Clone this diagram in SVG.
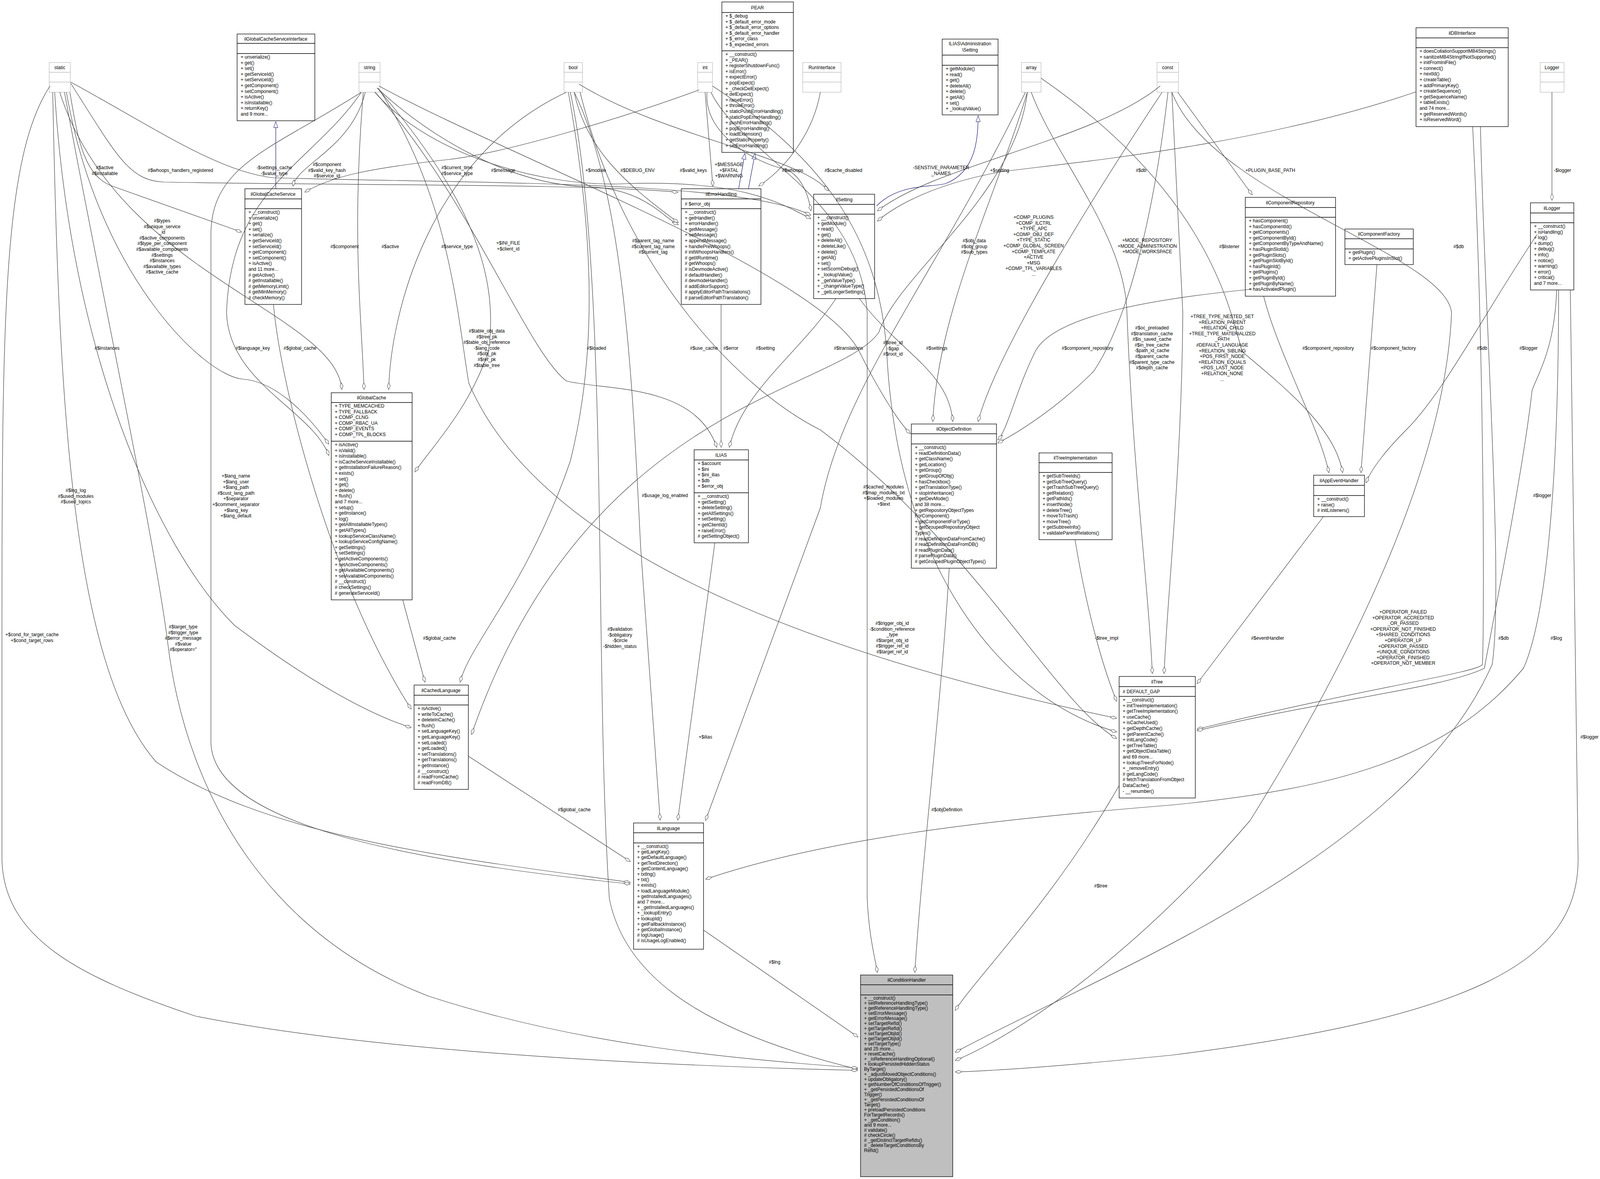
<svg xmlns="http://www.w3.org/2000/svg" width="4100" height="3017" viewBox="0 0 4100 3017">
<style>
text{font-family:"Liberation Sans",Arial,sans-serif;font-size:12px;fill:#000}
.t{text-anchor:middle}
.l{text-anchor:middle}
.b{fill:#fff;stroke:#000;stroke-width:1.3}
.gb{fill:#fff;stroke:#bfbfbf;stroke-width:1.3}
.s{stroke:#000;stroke-width:1.3}
.gs{stroke:#bfbfbf;stroke-width:1.3}
.e path{fill:none;stroke:#404040;stroke-width:1.2;marker-end:url(#d)}
.e path.i{stroke:#191970;marker-end:url(#t)}
</style>
<defs>
<marker id="d" viewBox="0 0 18 9" refX="18" refY="4.5" markerWidth="18" markerHeight="9" orient="auto" markerUnits="userSpaceOnUse"><path d="M0.5,4.5 L9,0.5 L17.5,4.5 L9,8.5 Z" fill="#fff" stroke="#404040"/></marker>
<marker id="t" viewBox="0 0 16 12" refX="16" refY="6" markerWidth="16" markerHeight="12" orient="auto" markerUnits="userSpaceOnUse"><path d="M0.5,0.5 L15.5,6 L0.5,11.5 Z" fill="#fff" stroke="#191970"/></marker>
</defs>
<rect width="4100" height="3017" fill="#fff"/>

<g id="static"><rect class="gb" x="126" y="160" width="54" height="76"/><line class="gs" x1="126" y1="185" x2="180" y2="185"/><line class="gs" x1="126" y1="210" x2="180" y2="210"/><text class="t" x="153" y="177">static</text></g>
<g id="string"><rect class="gb" x="919" y="160" width="54" height="76"/><line class="gs" x1="919" y1="185" x2="973" y2="185"/><line class="gs" x1="919" y1="210" x2="973" y2="210"/><text class="t" x="946" y="177">string</text></g>
<g id="bool"><rect class="gb" x="1444" y="160" width="47" height="76"/><line class="gs" x1="1444" y1="185" x2="1491" y2="185"/><line class="gs" x1="1444" y1="210" x2="1491" y2="210"/><text class="t" x="1467" y="177">bool</text></g>
<g id="int"><rect class="gb" x="1786" y="160" width="38" height="76"/><line class="gs" x1="1786" y1="185" x2="1824" y2="185"/><line class="gs" x1="1786" y1="210" x2="1824" y2="210"/><text class="t" x="1805" y="177">int</text></g>
<g id="RunInterface"><rect class="gb" x="2055" y="160" width="98" height="76"/><line class="gs" x1="2055" y1="185" x2="2153" y2="185"/><line class="gs" x1="2055" y1="210" x2="2153" y2="210"/><text class="t" x="2104" y="177">RunInterface</text></g>
<g id="array"><rect class="gb" x="2615" y="160" width="50" height="76"/><line class="gs" x1="2615" y1="185" x2="2665" y2="185"/><line class="gs" x1="2615" y1="210" x2="2665" y2="210"/><text class="t" x="2640" y="177">array</text></g>
<g id="const"><rect class="gb" x="2962" y="160" width="55" height="76"/><line class="gs" x1="2962" y1="185" x2="3017" y2="185"/><line class="gs" x1="2962" y1="210" x2="3017" y2="210"/><text class="t" x="2989" y="177">const</text></g>
<g id="Logger"><rect class="gb" x="3943" y="160" width="61" height="76"/><line class="gs" x1="3943" y1="185" x2="4004" y2="185"/><line class="gs" x1="3943" y1="210" x2="4004" y2="210"/><text class="t" x="3973" y="177">Logger</text></g>

<g id="ilGlobalCacheServiceInterface"><rect class="b" x="607" y="87" width="199" height="222"/><line class="s" x1="607" y1="111" x2="806" y2="111"/><line class="s" x1="607" y1="137" x2="806" y2="137"/><text class="t" x="706" y="104">ilGlobalCacheServiceInterface</text>
<text x="616" y="150"><tspan x="616">+ unserialize()</tspan><tspan x="616" dy="14.6">+ get()</tspan><tspan x="616" dy="14.6">+ set()</tspan><tspan x="616" dy="14.6">+ getServiceId()</tspan><tspan x="616" dy="14.6">+ setServiceId()</tspan><tspan x="616" dy="14.6">+ getComponent()</tspan><tspan x="616" dy="14.6">+ setComponent()</tspan><tspan x="616" dy="14.6">+ isActive()</tspan><tspan x="616" dy="14.6">+ isInstallable()</tspan><tspan x="616" dy="14.6">+ returnKey()</tspan><tspan x="616" dy="14.6">and 9 more...</tspan></text></g>

<g id="PEAR"><rect class="b" x="1848" y="5" width="183" height="385"/><line class="s" x1="1848" y1="32" x2="2031" y2="32"/><line class="s" x1="1848" y1="130" x2="2031" y2="130"/><text class="t" x="1939" y="24">PEAR</text>
<text x="1857" y="45"><tspan x="1857">+ $_debug</tspan><tspan x="1857" dy="14.6">+ $_default_error_mode</tspan><tspan x="1857" dy="14.6">+ $_default_error_options</tspan><tspan x="1857" dy="14.6">+ $_default_error_handler</tspan><tspan x="1857" dy="14.6">+ $_error_class</tspan><tspan x="1857" dy="14.6">+ $_expected_errors</tspan></text>
<text x="1857" y="143"><tspan x="1857">+ __construct()</tspan><tspan x="1857" dy="14.6">+ _PEAR()</tspan><tspan x="1857" dy="14.6">+ registerShutdownFunc()</tspan><tspan x="1857" dy="14.6">+ isError()</tspan><tspan x="1857" dy="14.6">+ expectError()</tspan><tspan x="1857" dy="14.6">+ popExpect()</tspan><tspan x="1857" dy="14.6">+ _checkDelExpect()</tspan><tspan x="1857" dy="14.6">+ delExpect()</tspan><tspan x="1857" dy="14.6">+ raiseError()</tspan><tspan x="1857" dy="14.6">+ throwError()</tspan><tspan x="1857" dy="14.6">+ staticPushErrorHandling()</tspan><tspan x="1857" dy="14.6">+ staticPopErrorHandling()</tspan><tspan x="1857" dy="14.6">+ pushErrorHandling()</tspan><tspan x="1857" dy="14.6">+ popErrorHandling()</tspan><tspan x="1857" dy="14.6">+ loadExtension()</tspan><tspan x="1857" dy="14.6">+ getStaticProperty()</tspan><tspan x="1857" dy="14.6">+ setErrorHandling()</tspan></text></g>

<g id="ILIAS_Administration_Setting"><rect class="b" x="2412" y="100" width="143" height="194"/><line class="s" x1="2412" y1="141" x2="2555" y2="141"/><line class="s" x1="2412" y1="167" x2="2555" y2="167"/><text class="t" x="2483" y="116">ILIAS\Administration</text><text class="t" x="2483" y="132">\Setting</text>
<text x="2421" y="180"><tspan x="2421">+ getModule()</tspan><tspan x="2421" dy="14.6">+ read()</tspan><tspan x="2421" dy="14.6">+ get()</tspan><tspan x="2421" dy="14.6">+ deleteAll()</tspan><tspan x="2421" dy="14.6">+ delete()</tspan><tspan x="2421" dy="14.6">+ getAll()</tspan><tspan x="2421" dy="14.6">+ set()</tspan><tspan x="2421" dy="14.6">+ _lookupValue()</tspan></text></g>

<g id="ilDBInterface"><rect class="b" x="3625" y="71" width="236" height="253"/><line class="s" x1="3625" y1="97" x2="3861" y2="97"/><line class="s" x1="3625" y1="122" x2="3861" y2="122"/><text class="t" x="3743" y="89">ilDBInterface</text>
<text x="3634" y="135"><tspan x="3634">+ doesCollationSupportMB4Strings()</tspan><tspan x="3634" dy="14.6">+ sanitizeMB4StringIfNotSupported()</tspan><tspan x="3634" dy="14.6">+ initFromIniFile()</tspan><tspan x="3634" dy="14.6">+ connect()</tspan><tspan x="3634" dy="14.6">+ nextId()</tspan><tspan x="3634" dy="14.6">+ createTable()</tspan><tspan x="3634" dy="14.6">+ addPrimaryKey()</tspan><tspan x="3634" dy="14.6">+ createSequence()</tspan><tspan x="3634" dy="14.6">+ getSequenceName()</tspan><tspan x="3634" dy="14.6">+ tableExists()</tspan><tspan x="3634" dy="14.6">and 74 more...</tspan><tspan x="3634" dy="14.6">+ getReservedWords()</tspan><tspan x="3634" dy="14.6">+ isReservedWord()</tspan></text></g>

<g id="ilGlobalCacheService"><rect class="b" x="627" y="483" width="145" height="296"/><line class="s" x1="627" y1="509" x2="772" y2="509"/><line class="s" x1="627" y1="534" x2="772" y2="534"/><text class="t" x="699" y="501">ilGlobalCacheService</text>
<text x="636" y="547"><tspan x="636">+ __construct()</tspan><tspan x="636" dy="14.6">+ unserialize()</tspan><tspan x="636" dy="14.6">+ get()</tspan><tspan x="636" dy="14.6">+ set()</tspan><tspan x="636" dy="14.6">+ serialize()</tspan><tspan x="636" dy="14.6">+ getServiceId()</tspan><tspan x="636" dy="14.6">+ setServiceId()</tspan><tspan x="636" dy="14.6">+ getComponent()</tspan><tspan x="636" dy="14.6">+ setComponent()</tspan><tspan x="636" dy="14.6">+ isActive()</tspan><tspan x="636" dy="14.6">and 11 more...</tspan><tspan x="636" dy="14.6"># getActive()</tspan><tspan x="636" dy="14.6"># getInstallable()</tspan><tspan x="636" dy="14.6"># getMemoryLimit()</tspan><tspan x="636" dy="14.6"># getMinMemory()</tspan><tspan x="636" dy="14.6"># checkMemory()</tspan></text></g>

<g id="ilErrorHandling"><rect class="b" x="1744" y="483" width="204" height="296"/><line class="s" x1="1744" y1="509" x2="1948" y2="509"/><line class="s" x1="1744" y1="534" x2="1948" y2="534"/><text class="t" x="1846" y="501">ilErrorHandling</text><text x="1753" y="526"># $error_obj</text>
<text x="1753" y="547"><tspan x="1753">+ __construct()</tspan><tspan x="1753" dy="14.6">+ getHandler()</tspan><tspan x="1753" dy="14.6">+ errorHandler()</tspan><tspan x="1753" dy="14.6">+ getMessage()</tspan><tspan x="1753" dy="14.6">+ setMessage()</tspan><tspan x="1753" dy="14.6">+ appendMessage()</tspan><tspan x="1753" dy="14.6">+ handlePreWhoops()</tspan><tspan x="1753" dy="14.6"># initWhoopsHandlers()</tspan><tspan x="1753" dy="14.6"># getIlRuntime()</tspan><tspan x="1753" dy="14.6"># getWhoops()</tspan><tspan x="1753" dy="14.6"># isDevmodeActive()</tspan><tspan x="1753" dy="14.6"># defaultHandler()</tspan><tspan x="1753" dy="14.6"># devmodeHandler()</tspan><tspan x="1753" dy="14.6"># addEditorSupport()</tspan><tspan x="1753" dy="14.6"># applyEditorPathTranslations()</tspan><tspan x="1753" dy="14.6"># parseEditorPathTranslation()</tspan></text></g>

<g id="ilSetting"><rect class="b" x="2083" y="497" width="156" height="267"/><line class="s" x1="2083" y1="523" x2="2239" y2="523"/><line class="s" x1="2083" y1="548" x2="2239" y2="548"/><text class="t" x="2161" y="515">ilSetting</text>
<text x="2092" y="561"><tspan x="2092">+ __construct()</tspan><tspan x="2092" dy="14.6">+ getModule()</tspan><tspan x="2092" dy="14.6">+ read()</tspan><tspan x="2092" dy="14.6">+ get()</tspan><tspan x="2092" dy="14.6">+ deleteAll()</tspan><tspan x="2092" dy="14.6">+ deleteLike()</tspan><tspan x="2092" dy="14.6">+ delete()</tspan><tspan x="2092" dy="14.6">+ getAll()</tspan><tspan x="2092" dy="14.6">+ set()</tspan><tspan x="2092" dy="14.6">+ setScormDebug()</tspan><tspan x="2092" dy="14.6">+ _lookupValue()</tspan><tspan x="2092" dy="14.6">+ _getValueType()</tspan><tspan x="2092" dy="14.6">+ _changeValueType()</tspan><tspan x="2092" dy="14.6">+ _getLongerSettings()</tspan></text></g>

<g id="ilComponentRepository"><rect class="b" x="3188" y="505" width="231" height="253"/><line class="s" x1="3188" y1="531" x2="3419" y2="531"/><line class="s" x1="3188" y1="556" x2="3419" y2="556"/><text class="t" x="3303" y="523">ilComponentRepository</text>
<text x="3197" y="569"><tspan x="3197">+ hasComponent()</tspan><tspan x="3197" dy="14.6">+ hasComponentId()</tspan><tspan x="3197" dy="14.6">+ getComponents()</tspan><tspan x="3197" dy="14.6">+ getComponentById()</tspan><tspan x="3197" dy="14.6">+ getComponentByTypeAndName()</tspan><tspan x="3197" dy="14.6">+ hasPluginSlotId()</tspan><tspan x="3197" dy="14.6">+ getPluginSlots()</tspan><tspan x="3197" dy="14.6">+ getPluginSlotById()</tspan><tspan x="3197" dy="14.6">+ hasPluginId()</tspan><tspan x="3197" dy="14.6">+ getPlugins()</tspan><tspan x="3197" dy="14.6">+ getPluginById()</tspan><tspan x="3197" dy="14.6">+ getPluginByName()</tspan><tspan x="3197" dy="14.6">+ hasActivatedPlugin()</tspan></text></g>

<g id="ilComponentFactory"><rect class="b" x="3443" y="586" width="175" height="91"/><line class="s" x1="3443" y1="611" x2="3618" y2="611"/><line class="s" x1="3443" y1="637" x2="3618" y2="637"/><text class="t" x="3530" y="603">ilComponentFactory</text>
<text x="3452" y="650"><tspan x="3452">+ getPlugin()</tspan><tspan x="3452" dy="14.6">+ getActivePluginsInSlot()</tspan></text></g>

<g id="ilLogger"><rect class="b" x="3918" y="519" width="111" height="223"/><line class="s" x1="3918" y1="545" x2="4029" y2="545"/><line class="s" x1="3918" y1="570" x2="4029" y2="570"/><text class="t" x="3973" y="537">ilLogger</text>
<text x="3927" y="583"><tspan x="3927">+ __construct()</tspan><tspan x="3927" dy="14.6">+ isHandling()</tspan><tspan x="3927" dy="14.6">+ log()</tspan><tspan x="3927" dy="14.6">+ dump()</tspan><tspan x="3927" dy="14.6">+ debug()</tspan><tspan x="3927" dy="14.6">+ info()</tspan><tspan x="3927" dy="14.6">+ notice()</tspan><tspan x="3927" dy="14.6">+ warning()</tspan><tspan x="3927" dy="14.6">+ error()</tspan><tspan x="3927" dy="14.6">+ critical()</tspan><tspan x="3927" dy="14.6">and 7 more...</tspan></text></g>

<g id="ilGlobalCache"><rect class="b" x="848" y="1005" width="207" height="530"/><line class="s" x1="848" y1="1030" x2="1055" y2="1030"/><line class="s" x1="848" y1="1129" x2="1055" y2="1129"/><text class="t" x="951" y="1022">ilGlobalCache</text>
<text x="857" y="1043"><tspan x="857">+ TYPE_MEMCACHED</tspan><tspan x="857" dy="14.6">+ TYPE_FALLBACK</tspan><tspan x="857" dy="14.6">+ COMP_CLNG</tspan><tspan x="857" dy="14.6">+ COMP_RBAC_UA</tspan><tspan x="857" dy="14.6">+ COMP_EVENTS</tspan><tspan x="857" dy="14.6">+ COMP_TPL_BLOCKS</tspan></text>
<text x="857" y="1142"><tspan x="857">+ isActive()</tspan><tspan x="857" dy="14.6">+ isValid()</tspan><tspan x="857" dy="14.6">+ isInstallable()</tspan><tspan x="857" dy="14.6">+ isCacheServiceInstallable()</tspan><tspan x="857" dy="14.6">+ getInstallationFailureReason()</tspan><tspan x="857" dy="14.6">+ exists()</tspan><tspan x="857" dy="14.6">+ set()</tspan><tspan x="857" dy="14.6">+ get()</tspan><tspan x="857" dy="14.6">+ delete()</tspan><tspan x="857" dy="14.6">+ flush()</tspan><tspan x="857" dy="14.6">and 7 more...</tspan><tspan x="857" dy="14.6">+ setup()</tspan><tspan x="857" dy="14.6">+ getInstance()</tspan><tspan x="857" dy="14.6">+ log()</tspan><tspan x="857" dy="14.6">+ getAllInstallableTypes()</tspan><tspan x="857" dy="14.6">+ getAllTypes()</tspan><tspan x="857" dy="14.6">+ lookupServiceClassName()</tspan><tspan x="857" dy="14.6">+ lookupServiceConfigName()</tspan><tspan x="857" dy="14.6">+ getSettings()</tspan><tspan x="857" dy="14.6">+ setSettings()</tspan><tspan x="857" dy="14.6">+ getActiveComponents()</tspan><tspan x="857" dy="14.6">+ setActiveComponents()</tspan><tspan x="857" dy="14.6">+ getAvailableComponents()</tspan><tspan x="857" dy="14.6">+ setAvailableComponents()</tspan><tspan x="857" dy="14.6"># __construct()</tspan><tspan x="857" dy="14.6"># checkSettings()</tspan><tspan x="857" dy="14.6"># generateServiceId()</tspan></text></g>

<g id="ILIAS"><rect class="b" x="1777" y="1151" width="139" height="238"/><line class="s" x1="1777" y1="1177" x2="1916" y2="1177"/><line class="s" x1="1777" y1="1261" x2="1916" y2="1261"/><text class="t" x="1846" y="1169">ILIAS</text>
<text x="1786" y="1190"><tspan x="1786">+ $account</tspan><tspan x="1786" dy="14.6">+ $ini</tspan><tspan x="1786" dy="14.6">+ $ini_ilias</tspan><tspan x="1786" dy="14.6">+ $db</tspan><tspan x="1786" dy="14.6">+ $error_obj</tspan></text>
<text x="1786" y="1274"><tspan x="1786">+ __construct()</tspan><tspan x="1786" dy="14.6">+ getSetting()</tspan><tspan x="1786" dy="14.6">+ deleteSetting()</tspan><tspan x="1786" dy="14.6">+ getAllSettings()</tspan><tspan x="1786" dy="14.6">+ setSetting()</tspan><tspan x="1786" dy="14.6">+ getClientId()</tspan><tspan x="1786" dy="14.6">+ raiseError()</tspan><tspan x="1786" dy="14.6"># getSettingObject()</tspan></text></g>

<g id="ilObjectDefinition"><rect class="b" x="2333" y="1085" width="218" height="369"/><line class="s" x1="2333" y1="1110" x2="2551" y2="1110"/><line class="s" x1="2333" y1="1136" x2="2551" y2="1136"/><text class="t" x="2442" y="1102">ilObjectDefinition</text>
<text x="2342" y="1149"><tspan x="2342">+ __construct()</tspan><tspan x="2342" dy="14.6">+ readDefinitionData()</tspan><tspan x="2342" dy="14.6">+ getClassName()</tspan><tspan x="2342" dy="14.6">+ getLocation()</tspan><tspan x="2342" dy="14.6">+ getGroup()</tspan><tspan x="2342" dy="14.6">+ getGroupOfObj()</tspan><tspan x="2342" dy="14.6">+ hasCheckbox()</tspan><tspan x="2342" dy="14.6">+ getTranslationType()</tspan><tspan x="2342" dy="14.6">+ stopInheritance()</tspan><tspan x="2342" dy="14.6">+ getDevMode()</tspan><tspan x="2342" dy="14.6">and 38 more...</tspan><tspan x="2342" dy="14.6">+ getRepositoryObjectTypes</tspan><tspan x="2342" dy="14.6">ForComponent()</tspan><tspan x="2342" dy="14.6">+ getComponentForType()</tspan><tspan x="2342" dy="14.6">+ getGroupedRepositoryObject</tspan><tspan x="2342" dy="14.6">Types()</tspan><tspan x="2342" dy="14.6"># readDefinitionDataFromCache()</tspan><tspan x="2342" dy="14.6"># readDefinitionDataFromDB()</tspan><tspan x="2342" dy="14.6"># readPluginData()</tspan><tspan x="2342" dy="14.6"># parsePluginData()</tspan><tspan x="2342" dy="14.6"># getGroupedPluginObjectTypes()</tspan></text></g>

<g id="ilTreeImplementation"><rect class="b" x="2660" y="1159" width="187" height="222"/><line class="s" x1="2660" y1="1184" x2="2847" y2="1184"/><line class="s" x1="2660" y1="1209" x2="2847" y2="1209"/><text class="t" x="2753" y="1176">ilTreeImplementation</text>
<text x="2669" y="1222"><tspan x="2669">+ getSubTreeIds()</tspan><tspan x="2669" dy="14.6">+ getSubTreeQuery()</tspan><tspan x="2669" dy="14.6">+ getTrashSubTreeQuery()</tspan><tspan x="2669" dy="14.6">+ getRelation()</tspan><tspan x="2669" dy="14.6">+ getPathIds()</tspan><tspan x="2669" dy="14.6">+ insertNode()</tspan><tspan x="2669" dy="14.6">+ deleteTree()</tspan><tspan x="2669" dy="14.6">+ moveToTrash()</tspan><tspan x="2669" dy="14.6">+ moveTree()</tspan><tspan x="2669" dy="14.6">+ getSubtreeInfo()</tspan><tspan x="2669" dy="14.6">+ validateParentRelations()</tspan></text></g>

<g id="ilAppEventHandler"><rect class="b" x="3363" y="1216" width="130" height="106"/><line class="s" x1="3363" y1="1242" x2="3493" y2="1242"/><line class="s" x1="3363" y1="1268" x2="3493" y2="1268"/><text class="t" x="3428" y="1234">ilAppEventHandler</text>
<text x="3372" y="1281"><tspan x="3372">+ __construct()</tspan><tspan x="3372" dy="14.6">+ raise()</tspan><tspan x="3372" dy="14.6"># initListeners()</tspan></text></g>

<g id="ilCachedLanguage"><rect class="b" x="1060" y="1753" width="139" height="267"/><line class="s" x1="1060" y1="1779" x2="1199" y2="1779"/><line class="s" x1="1060" y1="1804" x2="1199" y2="1804"/><text class="t" x="1129" y="1771">ilCachedLanguage</text>
<text x="1069" y="1817"><tspan x="1069">+ isActive()</tspan><tspan x="1069" dy="14.6">+ writeToCache()</tspan><tspan x="1069" dy="14.6">+ deleteInCache()</tspan><tspan x="1069" dy="14.6">+ flush()</tspan><tspan x="1069" dy="14.6">+ setLanguageKey()</tspan><tspan x="1069" dy="14.6">+ getLanguageKey()</tspan><tspan x="1069" dy="14.6">+ setLoaded()</tspan><tspan x="1069" dy="14.6">+ getLoaded()</tspan><tspan x="1069" dy="14.6">+ setTranslations()</tspan><tspan x="1069" dy="14.6">+ getTranslations()</tspan><tspan x="1069" dy="14.6">+ getInstance()</tspan><tspan x="1069" dy="14.6"># __construct()</tspan><tspan x="1069" dy="14.6"># readFromCache()</tspan><tspan x="1069" dy="14.6"># readFromDB()</tspan></text></g>

<g id="ilTree"><rect class="b" x="2865" y="1731" width="195" height="311"/><line class="s" x1="2865" y1="1757" x2="3060" y2="1757"/><line class="s" x1="2865" y1="1782" x2="3060" y2="1782"/><text class="t" x="2962" y="1749">ilTree</text><text x="2874" y="1774"># DEFAULT_GAP</text>
<text x="2874" y="1795"><tspan x="2874">+ __construct()</tspan><tspan x="2874" dy="14.6">+ initTreeImplementation()</tspan><tspan x="2874" dy="14.6">+ getTreeImplementation()</tspan><tspan x="2874" dy="14.6">+ useCache()</tspan><tspan x="2874" dy="14.6">+ isCacheUsed()</tspan><tspan x="2874" dy="14.6">+ getDepthCache()</tspan><tspan x="2874" dy="14.6">+ getParentCache()</tspan><tspan x="2874" dy="14.6">+ initLangCode()</tspan><tspan x="2874" dy="14.6">+ getTreeTable()</tspan><tspan x="2874" dy="14.6">+ getObjectDataTable()</tspan><tspan x="2874" dy="14.6">and 69 more...</tspan><tspan x="2874" dy="14.6">+ lookupTreesForNode()</tspan><tspan x="2874" dy="14.6">+ _removeEntry()</tspan><tspan x="2874" dy="14.6"># getLangCode()</tspan><tspan x="2874" dy="14.6"># fetchTranslationFromObject</tspan><tspan x="2874" dy="14.6">DataCache()</tspan><tspan x="2874" dy="14.6">- __renumber()</tspan></text></g>

<g id="ilLanguage"><rect class="b" x="1622" y="2106" width="179" height="323"/><line class="s" x1="1622" y1="2131" x2="1801" y2="2131"/><line class="s" x1="1622" y1="2157" x2="1801" y2="2157"/><text class="t" x="1711" y="2124">ilLanguage</text>
<text x="1631" y="2170"><tspan x="1631">+ __construct()</tspan><tspan x="1631" dy="14.2">+ getLangKey()</tspan><tspan x="1631" dy="14.2">+ getDefaultLanguage()</tspan><tspan x="1631" dy="14.2">+ getTextDirection()</tspan><tspan x="1631" dy="14.2">+ getContentLanguage()</tspan><tspan x="1631" dy="14.2">+ txtlng()</tspan><tspan x="1631" dy="14.2">+ txt()</tspan><tspan x="1631" dy="14.2">+ exists()</tspan><tspan x="1631" dy="14.2">+ loadLanguageModule()</tspan><tspan x="1631" dy="14.2">+ getInstalledLanguages()</tspan><tspan x="1631" dy="14.2">and 7 more...</tspan><tspan x="1631" dy="14.2">+ _getInstalledLanguages()</tspan><tspan x="1631" dy="14.2">+ _lookupEntry()</tspan><tspan x="1631" dy="14.2">+ lookupId()</tspan><tspan x="1631" dy="14.2">+ getFallbackInstance()</tspan><tspan x="1631" dy="14.2">+ getGlobalInstance()</tspan><tspan x="1631" dy="14.2"># logUsage()</tspan><tspan x="1631" dy="14.2"># isUsageLogEnabled()</tspan></text></g>

<g id="ilConditionHandler"><rect x="2203" y="2495" width="236" height="516" fill="#bfbfbf" stroke="#000" stroke-width="1.3"/><line class="s" x1="2203" y1="2520" x2="2439" y2="2520"/><line class="s" x1="2203" y1="2546" x2="2439" y2="2546"/><text class="t" x="2321" y="2512">ilConditionHandler</text>
<text x="2212" y="2558"><tspan x="2212">+ __construct()</tspan><tspan x="2212" dy="13">+ setReferenceHandlingType()</tspan><tspan x="2212" dy="13">+ getReferenceHandlingType()</tspan><tspan x="2212" dy="13">+ setErrorMessage()</tspan><tspan x="2212" dy="13">+ getErrorMessage()</tspan><tspan x="2212" dy="13">+ setTargetRefId()</tspan><tspan x="2212" dy="13">+ getTargetRefId()</tspan><tspan x="2212" dy="13">+ setTargetObjId()</tspan><tspan x="2212" dy="13">+ getTargetObjId()</tspan><tspan x="2212" dy="13">+ setTargetType()</tspan><tspan x="2212" dy="13">and 25 more...</tspan><tspan x="2212" dy="13">+ resetCache()</tspan><tspan x="2212" dy="13">+ _isReferenceHandlingOptional()</tspan><tspan x="2212" dy="13">+ lookupPersistedHiddenStatus</tspan><tspan x="2212" dy="13">ByTarget()</tspan><tspan x="2212" dy="13">+ _adjustMovedObjectConditions()</tspan><tspan x="2212" dy="13">+ updateObligatory()</tspan><tspan x="2212" dy="13">+ getNumberOfConditionsOfTrigger()</tspan><tspan x="2212" dy="13">+ _getPersistedConditionsOf</tspan><tspan x="2212" dy="13">Trigger()</tspan><tspan x="2212" dy="13">+ _getPersistedConditionsOf</tspan><tspan x="2212" dy="13">Target()</tspan><tspan x="2212" dy="13">+ preloadPersistedConditions</tspan><tspan x="2212" dy="13">ForTargetRecords()</tspan><tspan x="2212" dy="13">+ _getCondition()</tspan><tspan x="2212" dy="13">and 9 more...</tspan><tspan x="2212" dy="13"># validate()</tspan><tspan x="2212" dy="13"># checkCircle()</tspan><tspan x="2212" dy="13"># _getDistinctTargetRefIds()</tspan><tspan x="2212" dy="13"># _deleteTargetConditionsBy</tspan><tspan x="2212" dy="13">RefId()</tspan></text></g>

<g id="edges" class="e">
<path class="i" d="M706,483 L706,311"/>
<path class="i" d="M1891,483 L1907,392"/>
<path class="i" d="M1916,483 L1933,392"/>
<path class="i" d="M2244,527 C2300,470 2380,480 2420,470 C2500,440 2504,350 2504,296"/>
<path d="M179,237 C200,360 215,455 295,479 L619,594"/>
<path d="M181,213 C300,400 330,462 420,466 C900,475 1500,470 1736,492"/>
<path d="M181,210 C400,330 560,440 700,455 C1200,470 1900,460 2076,551"/>
<path d="M935,236 C900,380 760,420 750,477"/>
<path d="M1790,230 C1600,300 1300,390 1150,408 C950,430 850,450 780,492"/>
<path d="M965,225 C1100,350 1300,470 1500,478 C1650,480 1700,560 1737,575"/>
<path d="M1470,236 C1500,380 1600,470 1737,570"/>
<path d="M1805,236 L1825,477"/>
<path d="M2100,236 C2080,350 2000,440 1942,476"/>
<path d="M1482,215 C1700,350 2050,400 2121,489"/>
<path d="M960,236 C1100,400 1400,480 1600,470 C1900,460 2000,520 2076,560"/>
<path d="M1810,236 C1800,350 1950,420 2000,430 C2050,440 2070,500 2076,540"/>
<path d="M2970,220 C2800,360 2400,420 2246,540"/>
<path d="M3625,235 C3200,380 2700,420 2560,440 C2400,470 2300,520 2246,566"/>
<path d="M3015,236 L3206,499"/>
<path d="M3973,236 L3973,513"/>
<path d="M153,236 C300,700 860,800 875,997"/>
<path d="M930,236 C900,600 925,800 932,997"/>
<path d="M1450,236 C1100,400 1000,800 995,997"/>
<path d="M170,236 C250,700 520,960 620,970 C700,975 780,1050 842,1137"/>
<path d="M925,236 C800,420 590,480 580,800 C585,980 800,1050 842,1166"/>
<path d="M700,779 C720,1000 850,1500 1053,1815"/>
<path d="M140,236 C180,900 400,1400 600,1600 C800,1750 950,1830 1053,1862"/>
<path d="M970,230 C1200,500 1280,700 1250,900 C1200,1050 1100,1150 1062,1208"/>
<path d="M1031,1535 L1088,1746"/>
<path d="M1455,236 C1520,600 1530,900 1460,1180 C1350,1500 1200,1650 1178,1746"/>
<path d="M2630,236 C2600,500 2300,700 2250,850 C2150,1000 1500,1030 1207,1880"/>
<path d="M960,236 C1200,500 1350,900 1450,975 C1550,1000 1780,980 1835,1145"/>
<path d="M1846,779 L1846,1145"/>
<path d="M2140,764 C2050,900 1900,1000 1867,1145"/>
<path d="M1830,1389 L1735,2099"/>
<path d="M1470,236 C1600,500 1620,1000 1640,1400 L1690,2099"/>
<path d="M2625,236 C2400,700 2150,1000 2100,1300 L1806,2100"/>
<path d="M1199,1935 L1614,2205"/>
<path d="M135,236 C150,1000 180,1700 400,1950 C700,2150 1200,2200 1614,2258"/>
<path d="M925,236 C700,380 540,420 540,600 L540,1900 C545,2100 1000,2200 1614,2262"/>
<path d="M1460,236 C1560,700 1520,1700 1560,2300 C1600,2500 1800,2640 2196,2736"/>
<path d="M128,220 C10,400 5,800 5,1600 L5,2200 C10,2400 200,2500 500,2600 C1000,2700 1800,2730 2196,2739"/>
<path d="M165,236 C250,700 400,1400 430,1650 C480,2050 700,2400 1100,2550 C1500,2680 1900,2710 2196,2733"/>
<path d="M1801,2380 L2197,2654"/>
<path d="M2430,1454 C2410,1800 2360,2200 2342,2489"/>
<path d="M1820,236 C1900,400 2200,500 2220,800 L2220,2300 C2225,2400 2240,2450 2246,2489"/>
<path d="M2865,2010 C2700,2300 2500,2500 2445,2586"/>
<path d="M3790,324 C3800,800 3850,1500 3820,1700 C3600,2200 2800,2500 2445,2693"/>
<path d="M3000,236 C3100,500 3700,650 3716,800 C3700,1200 3450,1700 3200,2100 C2900,2450 2600,2650 2445,2714"/>
<path d="M4020,742 L4040,2200 C4040,2450 3800,2600 3000,2700 C2700,2730 2550,2740 2445,2743"/>
<path d="M3990,742 C3990,1300 3950,1600 3900,1710 C3700,1950 3400,2020 3000,2060 C2500,2100 2100,2150 1806,2250"/>
<path d="M3935,600 C3800,800 3700,1000 3600,1100 C3550,1150 3510,1200 3497,1236"/>
<path d="M3770,324 C3800,900 3800,1600 3795,1700 C3790,1720 3500,1760 3064,1866"/>
<path d="M3985,742 C3980,900 3930,970 3922,1000 C3900,1200 3820,1600 3800,1710 C3700,1760 3400,1790 3064,1870"/>
<path d="M3388,1322 L3064,1750"/>
<path d="M2752,1381 C2780,1550 2820,1700 2859,1795"/>
<path d="M2640,236 C2700,400 2880,600 2885,800 C2900,1200 2940,1500 2950,1724"/>
<path d="M3000,236 L3028,800 C3025,1200 2990,1500 2980,1724"/>
<path d="M968,225 C1150,500 1170,800 1200,980 C1400,1450 2200,1700 2859,1838"/>
<path d="M1824,220 C2100,400 2250,600 2270,900 C2300,1500 2600,1800 2859,1873"/>
<path d="M1485,236 C1600,700 1900,1000 2100,1100 C2500,1400 2700,1800 2859,1890"/>
<path d="M3235,758 C3270,900 3380,1100 3402,1210"/>
<path d="M2665,200 C3100,500 3150,800 3180,900 C3300,1000 3420,1100 3437,1210"/>
<path d="M3525,677 L3484,1210"/>
<path d="M3205,740 C3000,760 2700,800 2650,900 C2600,1000 2580,1100 2554,1126"/>
<path d="M2990,236 C2960,500 2900,800 2800,950 C2700,1050 2600,1110 2554,1134"/>
<path d="M2200,764 C2300,900 2430,950 2439,1079"/>
<path d="M2630,236 C2550,500 2400,800 2388,1079"/>
<path d="M2975,236 C2800,500 2550,900 2504,1079"/>
<path d="M970,220 C1300,400 2100,700 2200,900 C2250,1000 2300,1080 2331,1110"/>
</g>

<g id="labels">
<text class="l" x="268" y="433"><tspan x="268">#$active</tspan><tspan x="268" dy="14.6">#$installable</tspan></text>
<text class="l" x="462" y="440">#$whoops_handlers_registered</text>
<text class="l" x="702" y="433"><tspan x="702">-$settings_cache</tspan><tspan x="702" dy="14.6">-$value_type</tspan></text>
<text class="l" x="837" y="425"><tspan x="837">#$component</tspan><tspan x="837" dy="14.6">#$valid_key_hash</tspan><tspan x="837" dy="14.6">#$service_id</tspan></text>
<text class="l" x="1170" y="433"><tspan x="1170">#$current_time</tspan><tspan x="1170" dy="14.6">#$service_type</tspan></text>
<text class="l" x="1288" y="440">#$message</text>
<text class="l" x="1525" y="440">+$module</text>
<text class="l" x="1632" y="440">#$DEBUG_ENV</text>
<text class="l" x="1775" y="440">#$valid_keys</text>
<text class="l" x="1866" y="425"><tspan x="1866">+$MESSAGE</tspan><tspan x="1866" dy="14.6">+$FATAL</tspan><tspan x="1866" dy="14.6">+$WARNING</tspan></text>
<text class="l" x="2029" y="440">#$whoops</text>
<text class="l" x="2159" y="440">#$cache_disabled</text>
<text class="l" x="2409" y="433"><tspan x="2409">-SENSTIVE_PARAMETER</tspan><tspan x="2409" dy="14.6">_NAMES</tspan></text>
<text class="l" x="2559" y="440">+$setting</text>
<text class="l" x="2921" y="440">#$db</text>
<text class="l" x="3252" y="440">+PLUGIN_BASE_PATH</text>
<text class="l" x="4000" y="440">-$logger</text>
<text class="l" x="415" y="569"><tspan x="415">#$types</tspan><tspan x="415" dy="14.6">#$unique_service</tspan><tspan x="415" dy="14.6">_id</tspan><tspan x="415" dy="14.6">#$active_components</tspan><tspan x="415" dy="14.6">#$type_per_component</tspan><tspan x="415" dy="14.6">#$available_components</tspan><tspan x="415" dy="14.6">#$settings</tspan><tspan x="415" dy="14.6">#$instances</tspan><tspan x="415" dy="14.6">#$available_types</tspan><tspan x="415" dy="14.6">#$active_cache</tspan></text>
<text class="l" x="882" y="635">#$component</text>
<text class="l" x="999" y="635">#$active</text>
<text class="l" x="1170" y="635">#$service_type</text>
<text class="l" x="1301" y="626"><tspan x="1301">+$INI_FILE</tspan><tspan x="1301" dy="14.6">+$client_id</tspan></text>
<text class="l" x="1672" y="620"><tspan x="1672">#$parent_tag_name</tspan><tspan x="1672" dy="14.6">#$current_tag_name</tspan><tspan x="1672" dy="14.6">#$current_tag</tspan></text>
<text class="l" x="2494" y="620"><tspan x="2494">#$obj_data</tspan><tspan x="2494" dy="14.6">#$obj_group</tspan><tspan x="2494" dy="14.6">#$sub_types</tspan></text>
<text class="l" x="2646" y="560"><tspan x="2646">+COMP_PLUGINS</tspan><tspan x="2646" dy="14.6">+COMP_ILCTRL</tspan><tspan x="2646" dy="14.6">+TYPE_APC</tspan><tspan x="2646" dy="14.6">+COMP_OBJ_DEF</tspan><tspan x="2646" dy="14.6">+TYPE_STATIC</tspan><tspan x="2646" dy="14.6">+COMP_GLOBAL_SCREEN</tspan><tspan x="2646" dy="14.6">+COMP_TEMPLATE</tspan><tspan x="2646" dy="14.6">+ACTIVE</tspan><tspan x="2646" dy="14.6">+MSG</tspan><tspan x="2646" dy="14.6">+COMP_TPL_VARIABLES</tspan><tspan x="2646" dy="14.6">...</tspan></text>
<text class="l" x="2937" y="619"><tspan x="2937">+MODE_REPOSITORY</tspan><tspan x="2937" dy="14.6">+MODE_ADMINISTRATION</tspan><tspan x="2937" dy="14.6">+MODE_WORKSPACE</tspan></text>
<text class="l" x="3147" y="635">#$listener</text>
<text class="l" x="3734" y="635">#$db</text>
<text class="l" x="274" y="895">#$instances</text>
<text class="l" x="647" y="895">#$language_key</text>
<text class="l" x="768" y="895">#$global_cache</text>
<text class="l" x="1246" y="851"><tspan x="1246">#$table_obj_data</tspan><tspan x="1246" dy="14.6">#$tree_pk</tspan><tspan x="1246" dy="14.6">#$table_obj_reference</tspan><tspan x="1246" dy="14.6">-$lang_code</tspan><tspan x="1246" dy="14.6">#$obj_pk</tspan><tspan x="1246" dy="14.6">#$ref_pk</tspan><tspan x="1246" dy="14.6">#$table_tree</tspan></text>
<text class="l" x="1527" y="895">#$loaded</text>
<text class="l" x="1802" y="895">#$use_cache</text>
<text class="l" x="1871" y="895">#$error</text>
<text class="l" x="1959" y="895">#$setting</text>
<text class="l" x="2172" y="895">#$translations</text>
<text class="l" x="2286" y="881"><tspan x="2286">#$tree_id</tspan><tspan x="2286" dy="14.6">-$gap</tspan><tspan x="2286" dy="14.6">#$root_id</tspan></text>
<text class="l" x="2398" y="895">#$settings</text>
<text class="l" x="2784" y="895">#$component_repository</text>
<text class="l" x="2949" y="843"><tspan x="2949">#$oc_preloaded</tspan><tspan x="2949" dy="14.6">#$translation_cache</tspan><tspan x="2949" dy="14.6">#$is_saved_cache</tspan><tspan x="2949" dy="14.6">#$in_tree_cache</tspan><tspan x="2949" dy="14.6">-$path_id_cache</tspan><tspan x="2949" dy="14.6">#$parent_cache</tspan><tspan x="2949" dy="14.6">#$parent_type_cache</tspan><tspan x="2949" dy="14.6">#$depth_cache</tspan></text>
<text class="l" x="3129" y="814"><tspan x="3129">+TREE_TYPE_NESTED_SET</tspan><tspan x="3129" dy="14.6">+RELATION_PARENT</tspan><tspan x="3129" dy="14.6">+RELATION_CHILD</tspan><tspan x="3129" dy="14.6">+TREE_TYPE_MATERIALIZED</tspan><tspan x="3129" dy="14.6">_PATH</tspan><tspan x="3129" dy="14.6">#DEFAULT_LANGUAGE</tspan><tspan x="3129" dy="14.6">+RELATION_SIBLING</tspan><tspan x="3129" dy="14.6">+POS_FIRST_NODE</tspan><tspan x="3129" dy="14.6">+RELATION_EQUALS</tspan><tspan x="3129" dy="14.6">+POS_LAST_NODE</tspan><tspan x="3129" dy="14.6">+RELATION_NONE</tspan><tspan x="3129" dy="14.6">...</tspan></text>
<text class="l" x="3400" y="895">#$component_repository</text>
<text class="l" x="3567" y="895">#$component_factory</text>
<text class="l" x="3794" y="895">#$db</text>
<text class="l" x="3913" y="895">#$logger</text>
<text class="l" x="194" y="1259"><tspan x="194">#$lng_log</tspan><tspan x="194" dy="14.6">#$used_modules</tspan><tspan x="194" dy="14.6">#$used_topics</tspan></text>
<text class="l" x="604" y="1222"><tspan x="604">+$lang_name</tspan><tspan x="604" dy="14.6">+$lang_user</tspan><tspan x="604" dy="14.6">+$lang_path</tspan><tspan x="604" dy="14.6">#$cust_lang_path</tspan><tspan x="604" dy="14.6">+$separator</tspan><tspan x="604" dy="14.6">+$comment_separator</tspan><tspan x="604" dy="14.6">+$lang_key</tspan><tspan x="604" dy="14.6">+$lang_default</tspan></text>
<text class="l" x="1702" y="1272">#$usage_log_enabled</text>
<text class="l" x="2262" y="1250"><tspan x="2262">#$cached_modules</tspan><tspan x="2262" dy="14.6">#$map_modules_txt</tspan><tspan x="2262" dy="14.6">+$loaded_modules</tspan><tspan x="2262" dy="14.6">+$text</tspan></text>
<text class="l" x="3948" y="1272">#$logger</text>
<text class="l" x="3592" y="1570"><tspan x="3592">+OPERATOR_FAILED</tspan><tspan x="3592" dy="14.6">+OPERATOR_ACCREDITED</tspan><tspan x="3592" dy="14.6">_OR_PASSED</tspan><tspan x="3592" dy="14.6">+OPERATOR_NOT_FINISHED</tspan><tspan x="3592" dy="14.6">+SHARED_CONDITIONS</tspan><tspan x="3592" dy="14.6">+OPERATOR_LP</tspan><tspan x="3592" dy="14.6">+OPERATOR_PASSED</tspan><tspan x="3592" dy="14.6">+UNIQUE_CONDITIONS</tspan><tspan x="3592" dy="14.6">+OPERATOR_FINISHED</tspan><tspan x="3592" dy="14.6">+OPERATOR_NOT_MEMBER</tspan></text>
<text class="l" x="82" y="1628"><tspan x="82">+$cond_for_target_cache</tspan><tspan x="82" dy="14.6">+$cond_target_rows</tspan></text>
<text class="l" x="469" y="1608"><tspan x="469">#$target_type</tspan><tspan x="469" dy="14.6">#$trigger_type</tspan><tspan x="469" dy="14.6">#$error_message</tspan><tspan x="469" dy="14.6">#$value</tspan><tspan x="469" dy="14.6">#$operator=''</tspan></text>
<text class="l" x="1125" y="1637">#$global_cache</text>
<text class="l" x="1587" y="1614"><tspan x="1587">#$validation</tspan><tspan x="1587" dy="14.6">-$obligatory</tspan><tspan x="1587" dy="14.6">-$circle</tspan><tspan x="1587" dy="14.6">-$hidden_status</tspan></text>
<text class="l" x="2284" y="1599"><tspan x="2284">#$trigger_obj_id</tspan><tspan x="2284" dy="14.6">-$condition_reference</tspan><tspan x="2284" dy="14.6">_type</tspan><tspan x="2284" dy="14.6">#$target_obj_id</tspan><tspan x="2284" dy="14.6">#$trigger_ref_id</tspan><tspan x="2284" dy="14.6">#$target_ref_id</tspan></text>
<text class="l" x="2833" y="1637">-$tree_impl</text>
<text class="l" x="3245" y="1637">#$eventHandler</text>
<text class="l" x="3849" y="1637">#$db</text>
<text class="l" x="3984" y="1637">#$log</text>
<text class="l" x="1806" y="1890">+$ilias</text>
<text class="l" x="4069" y="1890">#$logger</text>
<text class="l" x="1470" y="2076">#$global_cache</text>
<text class="l" x="2424" y="2076">#$objDefinition</text>
<text class="l" x="2818" y="2271">#$tree</text>
<text class="l" x="1983" y="2466">#$lng</text>
</g>
</svg>
